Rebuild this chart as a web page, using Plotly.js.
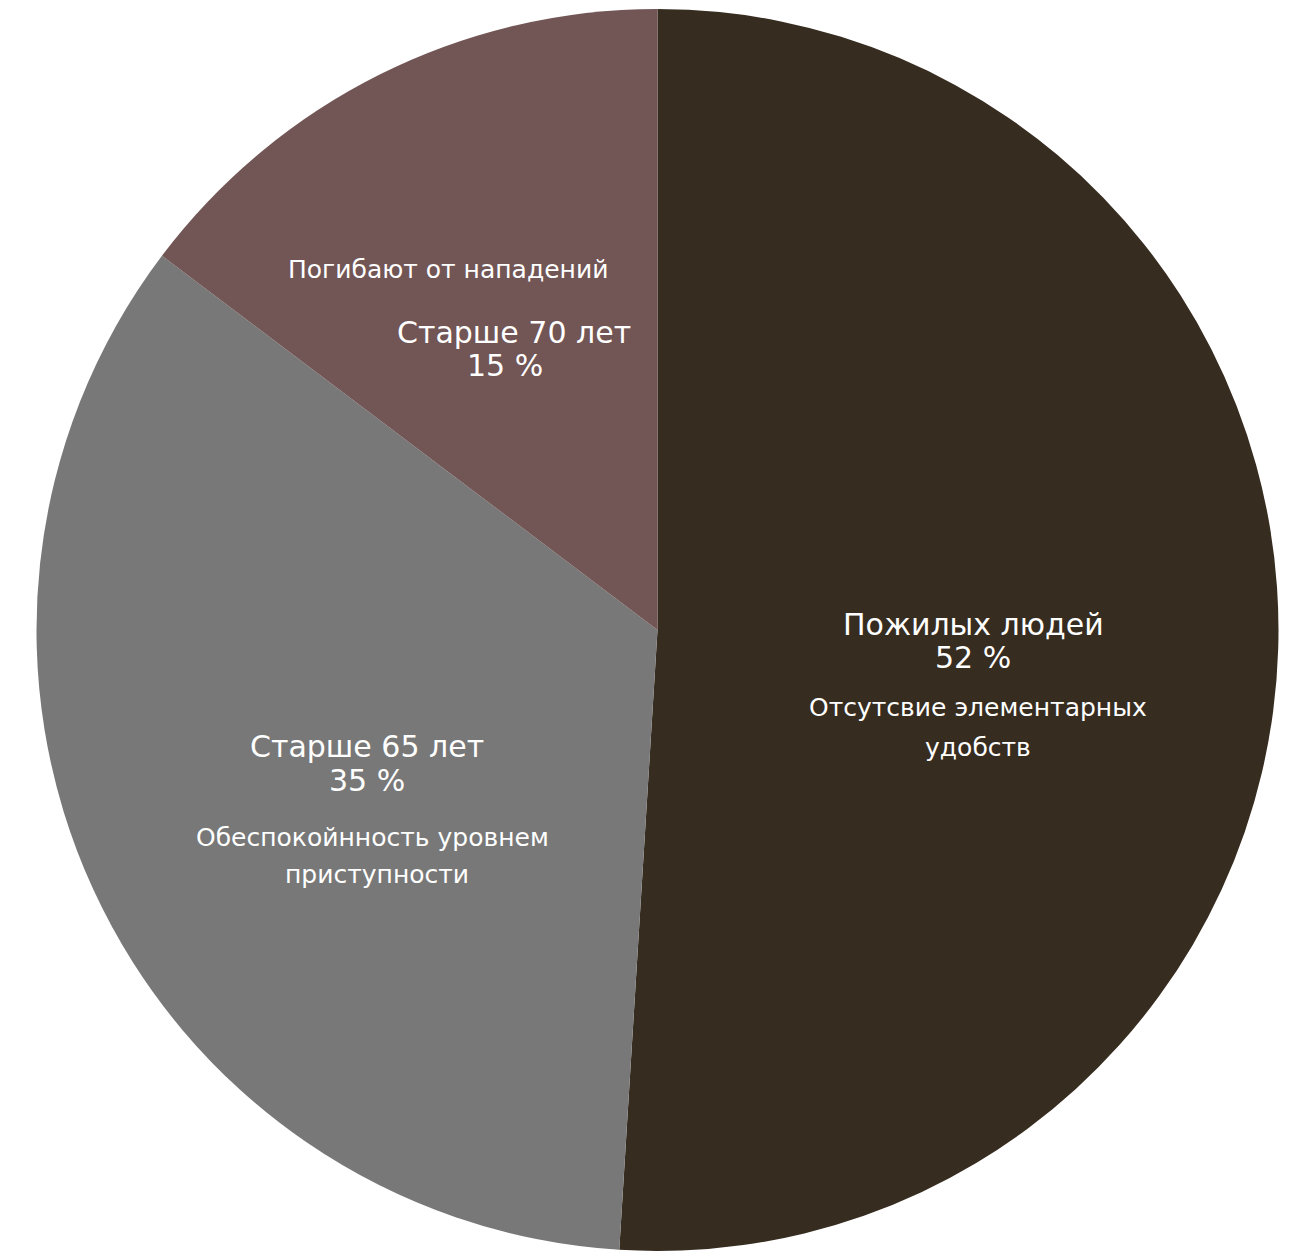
<!DOCTYPE html>
<html>
<head>
<meta charset="utf-8">
<script src="https://cdn.plot.ly/plotly-3.0.1.min.js"></script>
<style>html,body{margin:0;padding:0;background:#fff;}</style>
</head>
<body>
<div id="chart" style="width:1295px;height:1251px;"></div>
<script>
const categories = ["Пожилых людей", "Старше 65 лет", "Старше 70 лет"];
const values = [52, 35, 15];
const percentLabels = ["52 %", "35 %", "15 %"];
const notes = [
  ["Отсутсвие элементарных", "удобств"],
  ["Обеспокойнность уровнем", "приступности"],
  ["Погибают от нападений"]
];
const colors = ["#372c20", "#787878", "#725555"];

const FONT = "DejaVu Sans, Noto Sans, sans-serif";

const trace = {
  type: "pie",
  labels: categories,
  values: values,
  text: categories.map((c, i) => c + "<br>" + percentLabels[i]),
  textinfo: "none",
  sort: false,
  direction: "clockwise",
  rotation: 0,
  marker: { colors: colors, line: { width: 0 } },
  hoverinfo: "label+percent",
  showlegend: false
};

// Layout positions (paper coordinates) of the label lines in each slice
const mainPos = [
  { xs: [0.7475, 0.7475], ys: [0.5048, 0.4775] },
  { xs: [0.2722, 0.2722], ys: [0.4066, 0.3792] },
  { xs: [0.3875, 0.3800], ys: [0.7399, 0.7126] }
];
const notePos = [
  { xs: [0.7514, 0.7514], ys: [0.4380, 0.4050] },
  { xs: [0.2761, 0.2800], ys: [0.3333, 0.3035] },
  { xs: [0.3357], ys: [0.7899] }
];

const annotations = [];
categories.forEach((cat, i) => {
  [cat, percentLabels[i]].forEach((line, j) => {
    annotations.push({
      xref: "paper", yref: "paper",
      x: mainPos[i].xs[j], y: mainPos[i].ys[j],
      text: line, showarrow: false,
      xanchor: "center", yanchor: "middle",
      font: { family: FONT, size: 30, color: "#ffffff" }
    });
  });
  notes[i].forEach((line, j) => {
    annotations.push({
      xref: "paper", yref: "paper",
      x: notePos[i].xs[j], y: notePos[i].ys[j],
      text: line, showarrow: false,
      xanchor: "center", yanchor: "middle",
      font: { family: FONT, size: 25, color: "#ffffff" }
    });
  });
});

const layout = {
  width: 1295, height: 1251,
  margin: { l: 20, r: 0, t: 9, b: 0 },
  paper_bgcolor: "#ffffff",
  plot_bgcolor: "#ffffff",
  showlegend: false,
  annotations: annotations
};

Plotly.newPlot("chart", [trace], layout, { displayModeBar: false });
</script>
</body>
</html>
